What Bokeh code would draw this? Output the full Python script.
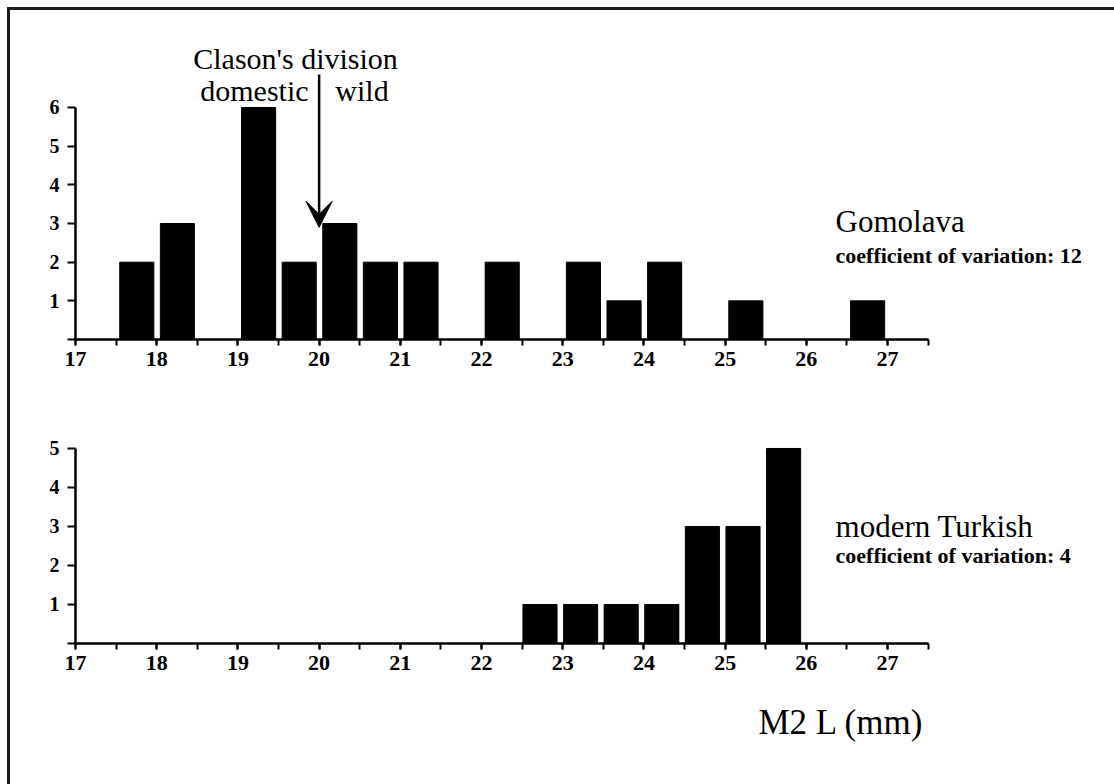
from bokeh.plotting import figure
from bokeh.layouts import column
from bokeh.models import Range1d, SingleIntervalTicker, FixedTicker, Label, Arrow, VeeHead, ColumnDataSource
from bokeh.embed import file_html
from bokeh.resources import INLINE

# ---- data ----
bin_width = 0.5
gomolava_bin_left = [17.5, 18.0, 19.0, 19.5, 20.0, 20.5, 21.0, 22.0, 23.0, 23.5, 24.0, 25.0, 26.5]
gomolava_counts = [2, 3, 6, 2, 3, 2, 2, 2, 2, 1, 2, 1, 1]
turkish_bin_left = [22.5, 23.0, 23.5, 24.0, 24.5, 25.0, 25.5]
turkish_counts = [1, 1, 1, 1, 3, 3, 5]
x_ticks_start, x_ticks_end = 17, 27.5
gomolava_y_ticks = [0, 1, 2, 3, 4, 5, 6]
turkish_y_ticks = [0, 1, 2, 3, 4, 5]
clason_division = 20.0

FONT = "Liberation Serif"
X_RANGE = (17, 29.795)


def style_fig(p, yticks):
    p.grid.visible = False
    p.outline_line_color = None
    p.background_fill_color = "white"
    p.border_fill_color = "white"
    xa = p.xaxis[0]
    xa.bounds = (x_ticks_start, x_ticks_end)
    xa.ticker = SingleIntervalTicker(interval=1, num_minor_ticks=2)
    xa.axis_line_width = 2.5
    xa.axis_line_color = "black"
    xa.major_tick_in = 0
    xa.major_tick_out = 6
    xa.minor_tick_in = 0
    xa.minor_tick_out = 6
    xa.major_tick_line_width = 2
    xa.minor_tick_line_width = 2
    xa.major_tick_line_color = "black"
    xa.minor_tick_line_color = "black"
    xa.major_label_text_font = FONT
    xa.major_label_text_font_style = "bold"
    xa.major_label_text_font_size = "22px"
    xa.major_label_text_color = "black"
    xa.major_label_standoff = 6
    ya = p.yaxis[0]
    ya.bounds = (yticks[0], yticks[-1])
    ya.ticker = FixedTicker(ticks=yticks)
    ya.major_label_overrides = {0: ""}
    ya.axis_line_width = 2.5
    ya.axis_line_color = "black"
    ya.major_tick_in = 0
    ya.major_tick_out = 8
    ya.major_tick_line_width = 2
    ya.major_tick_line_color = "black"
    ya.minor_tick_line_color = None
    ya.major_label_text_font = FONT
    ya.major_label_text_font_style = "bold"
    ya.major_label_text_font_size = "20px"
    ya.major_label_text_color = "black"
    ya.major_label_standoff = 8


def txt(x, y, text, size, align="left", bold=False):
    return Label(x=x, y=y, text=text, text_align=align, text_baseline="middle",
                 text_font=FONT, text_font_size=size, text_color="black",
                 text_font_style="bold" if bold else "normal")


# ---- top panel: Gomolava ----
p1 = figure(width=1104, height=381, x_range=Range1d(*X_RANGE), y_range=Range1d(0, 8.508),
            output_backend="svg", toolbar_location=None,
            min_border_left=65, min_border_right=0, min_border_top=0, min_border_bottom=52)
style_fig(p1, gomolava_y_ticks)
src1 = ColumnDataSource(dict(x=[b + 0.255 for b in gomolava_bin_left], top=gomolava_counts))
p1.vbar(x="x", top="top", bottom=0, width=0.42, source=src1, fill_color="black", line_color="black")

p1.add_layout(txt(19.71, 7.27, "Clason's division", "30px", "center"))
p1.add_layout(txt(19.87, 6.44, "domestic", "30px", "right"))
p1.add_layout(txt(20.2, 6.44, "wild", "30px", "left"))
p1.add_layout(Arrow(end=VeeHead(size=26, fill_color="black", line_color="black"),
                    x_start=clason_division, y_start=6.85, x_end=clason_division, y_end=2.90,
                    line_width=2.5, line_color="black"))
p1.add_layout(txt(26.36, 3.05, "Gomolava", "31px"))
p1.add_layout(txt(26.36, 2.17, "coefficient of variation: 12", "22px", bold=True))

# ---- bottom panel: modern Turkish ----
p2 = figure(width=1104, height=292, x_range=Range1d(*X_RANGE), y_range=Range1d(0, 6.46),
            output_backend="svg", toolbar_location=None,
            min_border_left=65, min_border_right=0, min_border_top=0, min_border_bottom=40)
style_fig(p2, turkish_y_ticks)
src2 = ColumnDataSource(dict(x=[b + 0.22 for b in turkish_bin_left], top=turkish_counts))
p2.vbar(x="x", top="top", bottom=0, width=0.42, source=src2, fill_color="black", line_color="black")

p2.add_layout(txt(26.36, 3.0, "modern Turkish", "31px"))
p2.add_layout(txt(26.36, 2.26, "coefficient of variation: 4", "22px", bold=True))

# ---- axis title strip ----
p3 = figure(width=1104, height=101, x_range=Range1d(*X_RANGE), y_range=Range1d(0, 101),
            output_backend="svg", toolbar_location=None, x_axis_location=None, y_axis_location=None,
            min_border_left=65, min_border_right=0, min_border_top=0, min_border_bottom=0)
p3.grid.visible = False
p3.outline_line_color = None
p3.add_layout(txt(25.41, 62, "M2 L (mm)", "35px"))

layout = column(p1, p2, p3, spacing=0,
                styles={"border-top": "3px solid #1c1c1c", "border-left": "3px solid #1c1c1c",
                        "margin-top": "7px", "margin-left": "7px"})

open("out.html", "w").write(file_html(layout, INLINE))
